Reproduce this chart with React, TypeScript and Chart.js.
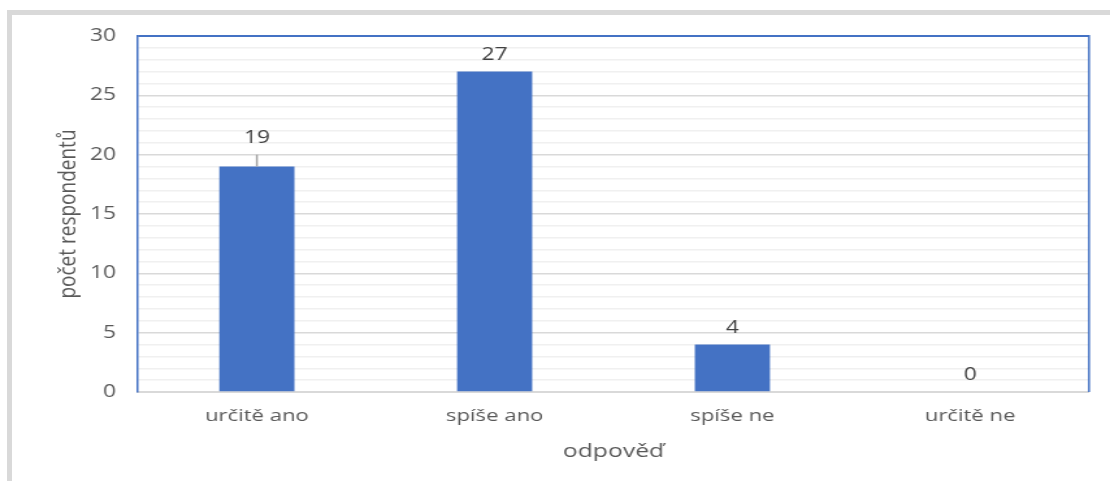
import React, { useEffect, useRef } from "react";
import { Chart, registerables } from "chart.js";

Chart.register(...registerables);

// ---- data ----
const categories = ["určitě ano", "spíše ano", "spíše ne", "určitě ne"];
const counts = [19, 27, 4, 0];
const errorPlus = [1, 0, 0, 0];
const yTickLabels = [0, 5, 10, 15, 20, 25, 30];
const xTitle = "odpověď";
const yTitle = "počet respondentů";

// ---- layout (the reference is horizontally stretched) ----
const W = 854;
const H = 481;
const S = 1110 / W;
const FONT = "'Open Sans', 'Noto Sans', sans-serif";
const BLUE = "#4472c4";

const decoPlugin = {
  id: "deco",
  afterDatasetsDraw(chart: any) {
    const ctx = chart.ctx;
    const y = chart.scales.y;
    const meta = chart.getDatasetMeta(0);
    ctx.save();
    // error bars
    counts.forEach((v, i) => {
      const e = errorPlus[i];
      if (e > 0) {
        const x = meta.data[i].x;
        ctx.strokeStyle = "#a5a5a5";
        ctx.lineWidth = 1.5;
        ctx.beginPath();
        ctx.moveTo(x, y.getPixelForValue(v));
        ctx.lineTo(x, y.getPixelForValue(v + e));
        ctx.stroke();
      }
    });
    // data labels
    ctx.fillStyle = "#404040";
    ctx.font = `17.5px ${FONT}`;
    ctx.textAlign = "center";
    ctx.textBaseline = "alphabetic";
    counts.forEach((v, i) => {
      const x = meta.data[i].x;
      ctx.fillText(String(v), x, y.getPixelForValue(v + errorPlus[i]) - 12);
    });
    ctx.restore();
  },
  afterDraw(chart: any) {
    const ctx = chart.ctx;
    const a = chart.chartArea;
    ctx.save();
    ctx.strokeStyle = BLUE;
    ctx.lineWidth = 2;
    ctx.beginPath();
    ctx.moveTo(a.left, a.top);
    ctx.lineTo(a.right, a.top);
    ctx.stroke();
    ctx.lineWidth = 1.5;
    ctx.beginPath();
    ctx.moveTo(a.right, a.top - 1);
    ctx.lineTo(a.right, a.bottom);
    ctx.stroke();
    // axis titles
    ctx.fillStyle = "#595959";
    ctx.font = `19px ${FONT}`;
    ctx.textAlign = "center";
    ctx.textBaseline = "alphabetic";
    ctx.fillText(xTitle, (a.left + a.right) / 2, 457);
    ctx.translate(76 / S, (a.top + a.bottom) / 2);
    ctx.rotate(-Math.PI / 2);
    ctx.fillText(yTitle, 0, 0);
    ctx.restore();
  },
};

export default function App() {
  const ref = useRef<HTMLCanvasElement>(null);
  useEffect(() => {
    if (!ref.current) return;
    const chart = new Chart(ref.current, {
      type: "bar",
      data: {
        labels: categories,
        datasets: [
          {
            data: counts,
            backgroundColor: BLUE,
            barPercentage: 0.316,
            categoryPercentage: 1,
          },
        ],
      },
      options: {
        responsive: false,
        animation: false,
        layout: { padding: { left: 0, right: W - 1089 / S, top: 36, bottom: 0 } },
        plugins: { legend: { display: false }, tooltip: { enabled: false } },
        scales: {
          x: {
            grid: { display: false, drawTicks: false },
            border: { color: "#d9d9d9", width: 2 },
            ticks: {
              color: "#595959",
              font: { family: FONT, size: 17 },
              padding: 14,
              maxRotation: 0,
            },
            afterFit: (s: any) => {
              s.height = H - 392;
            },
          },
          y: {
            min: 0,
            max: 30,
            ticks: {
              stepSize: 1,
              autoSkip: false,
              callback: (v: any) => (yTickLabels.includes(Number(v)) ? String(v) : ""),
              color: "#595959",
              font: { family: FONT, size: 17.5 },
              padding: 17,
            },
            grid: {
              drawTicks: false,
              color: (c: any) => (c.tick && c.tick.value % 5 === 0 ? "#d9d9d9" : "#f0f0f0"),
              lineWidth: 1.5,
            },
            border: { color: BLUE, width: 1.5 },
            afterFit: (s: any) => {
              s.width = 138 / S;
            },
          },
        },
      },
      plugins: [decoPlugin],
    } as any);
    return () => chart.destroy();
  }, []);

  return (
    <>
      <div
        style={{
          position: "fixed",
          left: 7,
          top: 10,
          width: 1103,
          height: 471,
          boxSizing: "border-box",
          borderTop: "5px solid #d9d9d9",
          borderLeft: "5px solid #d9d9d9",
        }}
      />
      <div
        style={{
          position: "fixed",
          left: 0,
          top: 0,
          width: W,
          height: H,
          transform: `scaleX(${S})`,
          transformOrigin: "0 0",
        }}
      >
        <canvas ref={ref} width={W} height={H} />
      </div>
    </>
  );
}
